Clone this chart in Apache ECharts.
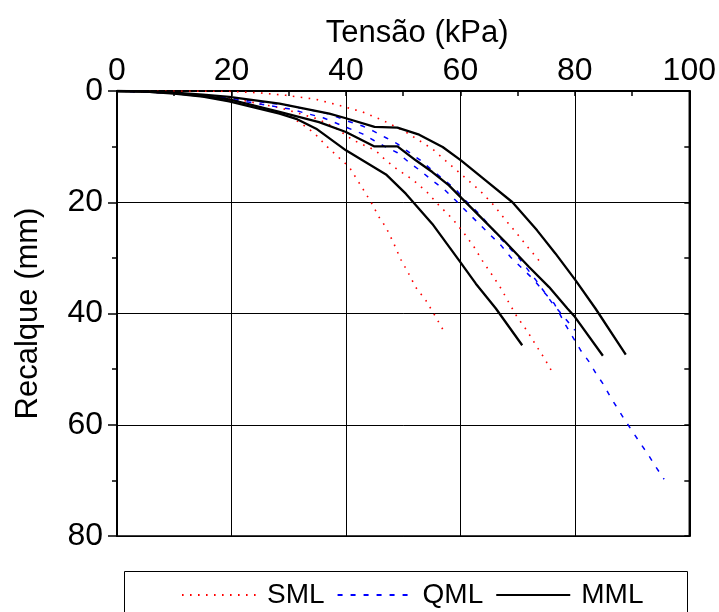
<!DOCTYPE html>
<html>
<head>
<meta charset="utf-8">
<script src="https://cdn.jsdelivr.net/npm/echarts@6/dist/echarts.min.js"></script>
<style>
  html, body { margin: 0; padding: 0; background: #fff; }
  #chart { width: 719px; height: 612px; }
</style>
</head>
<body>
<div id="chart"></div>
<script>
// Load-settlement curves: each pair is [tension (kPa), settlement (mm)]
const sml1 = [[0,0],[10,0],[19.6,0.05],[25,0.35],[29.5,0.77],[34.8,1.5],[38.8,2.57],[42.9,3.77],[46.5,5.3],[49,6.6],[50.5,7.4],[52.8,8.9],[55.1,10.4],[57.5,12.6],[61.2,15.9],[63.5,18.0],[65.9,20.6],[67.9,23.2],[69.9,25.65],[72,28.35],[74,30.8]];
const sml2 = [[0,0],[10,0.2],[20,1.3],[28.4,3.0],[35,5.0],[38,6.5],[41.2,8.8],[45.2,10.7],[46.7,12.2],[49,14.1],[51.6,15.9],[54,18.0],[56.3,20.6],[58.6,22.95],[60.6,25.5],[62.4,28.05],[63.8,30.45],[65.6,33.15],[67.1,35.5],[68.5,38.1],[69.9,40.6],[71.7,43.2],[73.2,45.7],[74.7,48.1],[76.2,50.8]];
const sml3 = [[0,0],[10,0.4],[20,1.7],[25,2.8],[29.5,4.1],[32.4,6.0],[34.5,7.6],[36.8,10.1],[38.8,12.0],[40.6,13.7],[42.6,17.0],[44.4,20.0],[45.8,22.7],[47,24.5],[48.4,27.5],[49.6,30.3],[51,32.9],[52.2,35.3],[54,37.7],[55.4,40.1],[56.9,42.8]];

const qml1 = [[0,0],[10,0.3],[20,1.3],[30,2.6],[37,4.1],[40,5.3],[42.9,6.3],[44.9,7.25],[47,8.4],[49,9.5],[51,11.0],[53.1,12.5],[55.1,14.3],[57.2,16.0],[59.2,17.7],[60.9,19.7],[63,21.8],[64.7,23.7],[67,26.5],[70.2,30.0],[73.2,34.0],[76.1,38.2],[78,40.5],[80,43]];
const qml2 = [[0,0],[10,0.4],[20,1.5],[30,3.2],[36,4.8],[40,6.5],[42.9,7.7],[44.9,8.9],[47,10.1],[49,11.1],[51,12.8],[53.1,14.4],[55.1,16.1],[57.2,17.7],[59.2,19.7],[61.2,21.8],[63,23.6],[65,25.65],[67.1,27.75],[68.8,29.9],[70.8,31.9],[72.9,34.0],[74.6,36.15],[76.4,38.2],[78.4,42.1],[79.8,44.5],[81,46.6],[82.5,48.7],[83.7,50.8],[85.1,52.9],[86.2,55],[87.5,57.1],[88.7,59.1],[90,61.1],[91.5,63.4],[92.9,65.5],[94.1,67.5],[95.6,69.8]];

const mml1 = [[0,0],[5,0.05],[10,0.3],[15,0.65],[19.6,1.05],[28.4,2.27],[37.1,4.07],[40,4.9],[45,6.45],[49,6.6],[52.8,7.85],[56.9,10.07],[60.1,12.46],[64.4,16.06],[69.1,20.0],[73.4,25.05],[76.6,29.2],[80.1,34.0],[83.6,39.1],[88.9,47.4]];
const mml2 = [[0,0],[5,0.1],[10,0.4],[15,0.9],[19.6,1.5],[28.4,3.77],[35.3,5.6],[40,7.37],[44.9,9.95],[49,9.95],[52.2,12.46],[55.1,14.57],[58,16.96],[60.3,19.35],[63.8,22.95],[67.9,27.2],[72,31.65],[75.5,35.25],[78.7,39.1],[80,40.6],[84.9,47.6]];
const mml3 = [[0,0],[5,0.1],[10,0.45],[15,1.0],[19.6,1.85],[28.4,4.07],[31.3,5.0],[34.8,6.77],[40,10.67],[47,15.0],[50.5,18.5],[55.1,23.9],[59.8,30.5],[62.7,34.64],[66.2,39.1],[70.8,45.7]];

const legendNames = ['SML', 'QML', 'MML'];
const xTitle = 'Tensão (kPa)';
const yTitle = 'Recalque (mm)';

const FONT = "'Liberation Sans', Arial, sans-serif";

const styles = {
  SML: { color: '#ff0000', width: 1.6, type: [1.6, 6.4], z: 2 },
  QML: { color: '#0000ff', width: 1.5, type: [5, 8], z: 3 },
  MML: { color: '#000000', width: 2.3, type: 'solid', z: 4 }
};

function curve(name, data) {
  const s = styles[name];
  return {
    name: name,
    type: 'line',
    data: data,
    symbol: 'none',
    showSymbol: false,
    z: s.z,
    lineStyle: { color: s.color, width: s.width, type: s.type, cap: 'butt' },
    itemStyle: { color: s.color },
    emphasis: { disabled: true }
  };
}

const chart = echarts.init(document.getElementById('chart'), null, { renderer: 'canvas' });

chart.setOption({
  animation: false,
  backgroundColor: '#fff',
  textStyle: { fontFamily: FONT },
  grid: {
    left: 117, top: 91, width: 573, height: 445,
    show: true, borderColor: '#000', borderWidth: 1.5, backgroundColor: 'transparent'
  },
  xAxis: {
    type: 'value', position: 'top', min: 0, max: 100, interval: 20,
    name: xTitle, nameLocation: 'middle', nameGap: 42,
    nameTextStyle: { fontSize: 31, color: '#000', fontFamily: FONT, padding: [0, 0, 0, 28] },
    axisLine: { show: true, lineStyle: { color: '#000', width: 2 } },
    axisTick: { show: true, inside: true, length: 5, lineStyle: { color: '#000', width: 1.5 } },
    minorTick: { show: true, splitNumber: 2, length: 5, lineStyle: { color: '#000', width: 1.5 } },
    axisLabel: { fontSize: 32, color: '#000', margin: 4, fontFamily: FONT },
    splitLine: { show: true, lineStyle: { color: '#000', width: 1 } }
  },
  yAxis: [{
    type: 'value', inverse: true, min: 0, max: 80, interval: 20,
    name: yTitle, nameLocation: 'middle', nameGap: 73, nameRotate: 90,
    nameTextStyle: { fontSize: 31, color: '#000', fontFamily: FONT },
    axisLine: { show: true, lineStyle: { color: '#000', width: 2 } },
    axisTick: { show: true, inside: false, length: 9, lineStyle: { color: '#000', width: 1.5 } },
    minorTick: { show: true, splitNumber: 2, length: 5, lineStyle: { color: '#000', width: 1.5 } },
    axisLabel: { fontSize: 32, color: '#000', margin: 14, fontFamily: FONT },
    splitLine: { show: true, lineStyle: { color: '#000', width: 1 } }
  }, {
    type: 'value', inverse: true, min: 0, max: 80, interval: 20, position: 'right',
    axisLine: { show: true, lineStyle: { color: '#000', width: 2 } },
    axisTick: { show: true, inside: true, length: 5, lineStyle: { color: '#000', width: 1.5 } },
    minorTick: { show: true, splitNumber: 2, length: 5, lineStyle: { color: '#000', width: 1.5 } },
    axisLabel: { show: false },
    splitLine: { show: false }
  }],
  legend: {
    data: legendNames,
    left: 176, top: 576,
    itemWidth: 74, itemHeight: 14, itemGap: 12,
    itemStyle: { opacity: 0 },
    textStyle: { fontSize: 28, color: '#000', fontFamily: FONT, padding: [0, 0, 0, 6] },
    selectedMode: false
  },
  graphic: [{
    type: 'rect',
    shape: { x: 124.5, y: 571.5, width: 563, height: 60 },
    style: { fill: 'transparent', stroke: '#000', lineWidth: 1 },
    silent: true, z: 100
  }],
  series: [
    curve('SML', sml1), curve('SML', sml2), curve('SML', sml3),
    curve('QML', qml1), curve('QML', qml2),
    curve('MML', mml1), curve('MML', mml2), curve('MML', mml3)
  ]
});
</script>
</body>
</html>
